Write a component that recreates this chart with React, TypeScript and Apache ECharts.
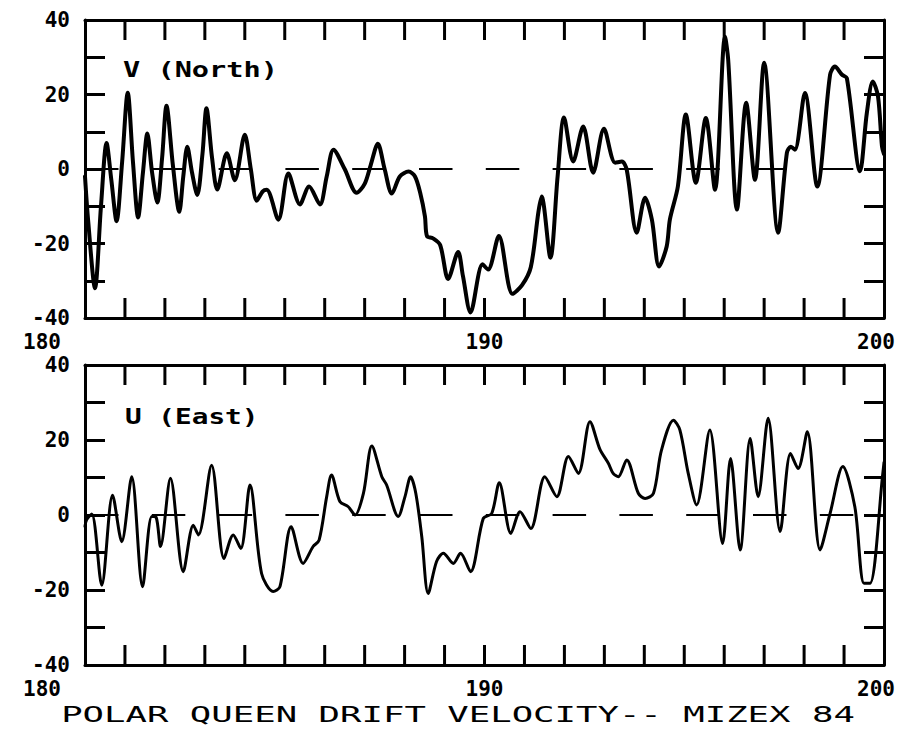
import React, { useEffect, useRef } from "react";
import * as echarts from "echarts";

// ---- data ----
const vDays = [
  180.0, 180.08, 180.25, 180.4, 180.54, 180.66, 180.79, 180.93, 181.07, 181.2,
  181.33, 181.45, 181.56, 181.68, 181.81, 181.93, 182.04, 182.2, 182.36, 182.46,
  182.56, 182.68, 182.81, 182.94, 183.04, 183.18, 183.31, 183.55, 183.75, 184.0,
  184.15, 184.3, 184.45, 184.55, 184.84, 185.09, 185.38, 185.61, 185.88, 186.05,
  186.22, 186.5, 186.8, 187.0, 187.15, 187.33, 187.5, 187.68, 187.88, 188.1,
  188.26, 188.39, 188.51, 188.56, 188.71, 188.89, 189.09, 189.34, 189.46, 189.65,
  189.95, 190.09, 190.36, 190.7, 190.94, 191.16, 191.35, 191.43, 191.65, 191.83,
  191.99, 192.22, 192.47, 192.72, 192.99, 193.27, 193.44, 193.56, 193.81, 194.02,
  194.19, 194.37, 194.56, 194.64, 194.84, 195.04, 195.29, 195.54, 195.77, 196.02,
  196.1, 196.32, 196.55, 196.77, 197.0, 197.35, 197.57, 197.67, 197.77, 198.02,
  198.33, 198.65, 198.77, 198.95, 199.07, 199.4, 199.57, 199.72, 199.85, 199.95,
  200.0,
];
const vNorth = [
  -2, -14, -32, -10, 7, -3, -14, 2, 20.5, 2,
  -13, -1, 9.5, -1, -9, 3, 17, 1, -11.5, -2,
  6, -1, -7, 4, 16.3, 3, -5.5, 4.2, -3, 9.2,
  0, -8.5, -6, -5.6, -13.6, -1.2, -9.5, -4.7, -9.5, -2,
  5.2, 0, -6.4, -4, 1, 6.8, 0, -6.6, -2, -0.7,
  -2, -6.4, -12.8, -18, -18.6, -20.4, -29.5, -22.3, -28.7, -38.5,
  -25.6, -27, -18, -33.5, -31.2, -26.3, -11.5, -7.4, -23.8, -2,
  13.8, 2, 11.4, -1, 10.8, 1.7, 2, -0.2, -17.1, -7.7,
  -13.6, -26.2, -20.8, -13.6, -4.7, 14.6, -3.7, 13.7, -5.6, 35.5,
  29.3, -10.9, 17.8, -2.9, 28.5, -17.1, 4.4, 6, 5.2, 20.4,
  -4.7, 25.3, 27.5, 25.3, 24.4, -0.6, 15, 23.5, 19.5, 6,
  4,
];

const uDays = [
  180.0, 180.04, 180.17, 180.42, 180.69, 180.92, 181.17, 181.44, 181.67, 181.78,
  181.89, 182.14, 182.46, 182.71, 182.84, 183.17, 183.48, 183.71, 183.9, 184.13,
  184.42, 184.71, 184.88, 185.16, 185.46, 185.71, 185.86, 186.05, 186.17, 186.38,
  186.59, 186.76, 186.97, 187.18, 187.43, 187.55, 187.84, 188.01, 188.15, 188.28,
  188.43, 188.59, 188.8, 188.97, 189.22, 189.4, 189.65, 189.97, 190.18, 190.37,
  190.66, 190.89, 191.16, 191.51, 191.81, 192.1, 192.35, 192.64, 192.89, 193.1,
  193.22, 193.35, 193.56, 193.85, 194.02, 194.23, 194.43, 194.73, 194.89, 195.1,
  195.31, 195.64, 195.96, 196.16, 196.4, 196.65, 196.85, 197.1, 197.4, 197.66,
  197.85, 198.08, 198.4, 198.65, 198.97, 199.27, 199.5, 199.65, 199.97, 200.0,
];
const uEast = [
  -3, -1.3, 0.3, -18.7, 5.3, -7.1, 10.2, -19.1, -0.4, -0.6,
  -8.4, 9.8, -15.1, -2.7, -5.3, 13.3, -11.6, -5.3, -8.9, 8,
  -15.6, -20.4, -19.1, -3.1, -12.9, -8.4, -6.7, 4.9, 10.7, 3.6,
  2.2, 0, 5.8, 18.4, 10.2, 8, -0.4, 4.9, 10.2, 5.8,
  -5.8, -20.9, -12.4, -10.2, -12.9, -10.2, -15.1, -0.9, 0.4, 8.6,
  -4.9, 0.9, -3.6, 10.2, 4.9, 15.6, 11.1, 24.9, 17.5, 13.8,
  11.1, 10.2, 14.7, 5.8, 4.4, 5.8, 17.3, 25.3, 22.7, 11.1,
  2.7, 22.7, -7.6, 15.1, -9.3, 20.4, 4.9, 25.8, -4.4, 16.4,
  12.4, 22.2, -9.3, 0.4, 12.9, 2.2, -18.2, -18.2, 11.1, 14,
];

// day ticks along the top and bottom frame of each panel
const xTicks = [
  181, 182, 183, 184, 185, 186, 187, 188, 189, 190,
  191, 192, 193, 194, 195, 196, 197, 198, 199,
];
const xTickLabels = ["180", "190", "200"];
const yTickLabels = ["-40", "-20", "0", "20", "40"];
const panelLabels = ["V (North)", "U (East)"];
const chartTitle = "POLAR QUEEN DRIFT VELOCITY-- MIZEX 84";

const FONT = "'DejaVu Sans Mono', monospace";

export default function App() {
  const ref = useRef<HTMLDivElement>(null);

  useEffect(() => {
    const el = ref.current;
    if (!el) return;
    const chart = echarts.init(el, null, { renderer: "svg" });

    const TICK_LEN = 20;
    const Y_MIN = -40;
    const Y_MAX = 40;
    const tick = () => ({
      show: true, inside: true, length: TICK_LEN,
      lineStyle: { color: "#000", width: 3 },
    });
    const frame = () => ({ show: true, onZero: false, lineStyle: { color: "#000", width: 3 } });
    const labelBase = () => ({
      fontFamily: FONT,
      fontSize: 21,
      fontWeight: "bold" as const,
      color: "#000",
    });
    const rich = () => ({
      l: { ...labelBase(), padding: [0, 86, 0, 0] },
      c: { ...labelBase() },
      r: { ...labelBase(), padding: [0, 16, 0, 0] },
    });
    const xFmt = (v: number) => {
      const s = String(Math.round(v));
      if (!xTickLabels.includes(s)) return "";
      if (s === xTickLabels[0]) return `{l|${s}}`;
      if (s === xTickLabels[xTickLabels.length - 1]) return `{r|${s}}`;
      return `{c|${s}}`;
    };
    const yFmt = (v: number) => {
      const s = String(Math.round(v));
      return yTickLabels.includes(s) ? s : "";
    };

    const grids = [
      { left: 85, top: 20, width: 799, height: 298 },
      { left: 85, top: 365, width: 799, height: 300 },
    ];

    const xAxes: any[] = [];
    const yAxes: any[] = [];
    grids.forEach((_, gi) => {
      xAxes.push({
        type: "value", gridIndex: gi, min: 180, max: 200, interval: 1, position: "bottom",
        axisLine: frame(), axisTick: { show: false }, splitLine: { show: false },
        axisLabel: { ...labelBase(), margin: 13, formatter: xFmt, rich: rich() },
      });
      xAxes.push({
        type: "value", gridIndex: gi, min: 180, max: 200, interval: 1, position: "top",
        axisLine: frame(), axisTick: { show: false }, splitLine: { show: false },
        axisLabel: { show: false },
      });
      yAxes.push({
        type: "value", gridIndex: gi, min: Y_MIN, max: Y_MAX, interval: 10, position: "left",
        axisLine: frame(), axisTick: tick(), splitLine: { show: false },
        axisLabel: { ...labelBase(), margin: 15, formatter: yFmt },
      });
      yAxes.push({
        type: "value", gridIndex: gi, min: Y_MIN, max: Y_MAX, interval: 10, position: "right",
        axisLine: frame(), axisTick: tick(), splitLine: { show: false },
        axisLabel: { show: false },
      });
    });

    const zeroLine = () => ({
      silent: true,
      symbol: ["none", "none"],
      label: { show: false },
      lineStyle: { color: "#000", width: 2, type: [33.5, 33.3] },
      data: [{ yAxis: 0 }],
    });

    // frame ticks on the day axis: short vertical segments drawn as line series
    const tickSeriesList: any[] = [];
    grids.forEach((g, gi) => {
      const lenUnits = (TICK_LEN * (Y_MAX - Y_MIN)) / g.height;
      xTicks.forEach((d) => {
        [
          [[d, Y_MIN], [d, Y_MIN + lenUnits]],
          [[d, Y_MAX], [d, Y_MAX - lenUnits]],
        ].forEach((seg) => {
          tickSeriesList.push({
            type: "line",
            xAxisIndex: gi * 2,
            yAxisIndex: gi * 2,
            data: seg,
            symbol: "none",
            showSymbol: false,
            silent: true,
            clip: false,
            z: 4,
            lineStyle: { color: "#000", width: 3 },
          });
        });
      });
    });

    const option: any = {
      animation: false,
      backgroundColor: "#fff",
      grid: grids,
      xAxis: xAxes,
      yAxis: yAxes,
      series: [
        {
          type: "line", xAxisIndex: 0, yAxisIndex: 0,
          data: vDays.map((d, i) => [d, vNorth[i]]),
          symbol: "none", showSymbol: false, smooth: 0.3,
          lineStyle: { color: "#000", width: 4, join: "round", cap: "round" },
          markLine: zeroLine(), z: 3,
        },
        {
          type: "line", xAxisIndex: 2, yAxisIndex: 2,
          data: uDays.map((d, i) => [d, uEast[i]]),
          symbol: "none", showSymbol: false, smooth: 0.3,
          lineStyle: { color: "#000", width: 3, join: "round", cap: "round" },
          markLine: zeroLine(), z: 3,
        },
        ...tickSeriesList,
      ],
      graphic: [
        {
          type: "text", x: 123, y: 69, scaleX: 1.3,
          style: {
            text: panelLabels[0], fill: "#000", fontFamily: FONT, fontSize: 22, fontWeight: "bold",
            textAlign: "left", textVerticalAlign: "middle", align: "left", verticalAlign: "middle",
          },
        },
        {
          type: "text", x: 125, y: 417, scaleX: 1.26,
          style: {
            text: panelLabels[1], fill: "#000", fontFamily: FONT, fontSize: 22, fontWeight: "bold",
            textAlign: "left", textVerticalAlign: "middle", align: "left", verticalAlign: "middle",
          },
        },
        {
          type: "text", x: 458, y: 715, scaleX: 1.62,
          style: {
            text: chartTitle, fill: "#000", fontFamily: FONT, fontSize: 22,
            textAlign: "center", textVerticalAlign: "middle", align: "center", verticalAlign: "middle",
          },
        },
      ],
    };

    chart.setOption(option);
    return () => chart.dispose();
  }, []);

  return (
    <div
      ref={ref}
      style={{ position: "fixed", left: 0, top: 0, width: 913, height: 741, background: "#fff" }}
    />
  );
}
